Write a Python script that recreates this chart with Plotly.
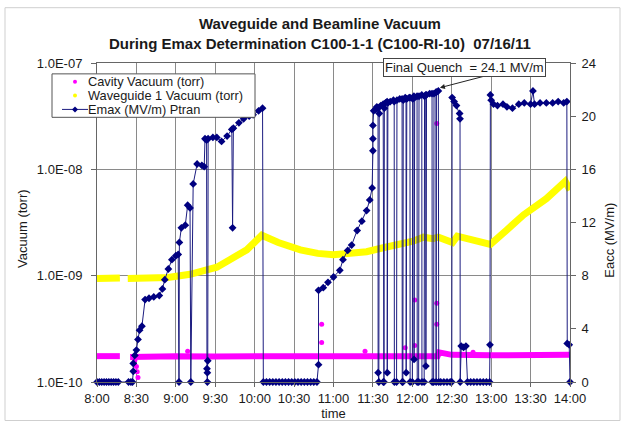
import plotly.graph_objects as go

# ---------------- data ----------------
tick_vals = [8.0, 8.5, 9.0, 9.5, 10.0, 10.5, 11.0, 11.5, 12.0, 12.5, 13.0, 13.5, 14.0]
tick_text = ["8:00", "8:30", "9:00", "9:30", "10:00", "10:30", "11:00", "11:30",
             "12:00", "12:30", "13:00", "13:30", "14:00"]
vac_tick_vals = [1e-10, 1e-9, 1e-8, 1e-7]
vac_tick_text = ["1.0E-10", "1.0E-09", "1.0E-08", "1.0E-07"]
eacc_tick_vals = [0, 4, 8, 12, 16, 20, 24]

series_names = ["Cavity Vacuum (torr)", "Waveguide 1 Vacuum (torr)", "Emax (MV/m) Ptran"]

# Cavity vacuum (torr) - baseline readings
cav_t = [8.00, 8.10, 8.20, 8.29, None, 8.42, 8.60, 9.00, 9.50, 10.00, 10.50, 11.00,
         11.50, 12.00, 12.32, 12.34, 12.50, 13.00, 13.50, 14.00]
cav_v = [1.75e-10, 1.74e-10, 1.75e-10, 1.75e-10, None, 1.72e-10, 1.74e-10, 1.75e-10,
         1.74e-10, 1.75e-10, 1.74e-10, 1.75e-10, 1.74e-10, 1.75e-10, 1.75e-10, 1.9e-10,
         1.8e-10, 1.78e-10, 1.8e-10, 1.8e-10]
# Cavity vacuum isolated readings (spikes / dips)
cav_spk_t = [8.48, 8.50, 8.51, 8.52, 9.15, 10.85, 10.85, 11.40, 11.91, 12.03, 12.03,
             12.31, 12.31, 12.31, 12.77]
cav_spk_v = [1.6e-10, 1.4e-10, 1.25e-10, 1.1e-10, 1.95e-10, 3.5e-10, 2.35e-10, 1.95e-10,
             2.1e-10, 2.2e-10, 5.9e-10, 2.7e-8, 5.5e-10, 3.5e-10, 1.9e-10]

# Waveguide 1 vacuum (torr)
wg_t = [8.00, 8.15, 8.29, None, 8.39, 8.60, 8.90, 9.18, 9.40, 9.52, 9.69, 9.90, 10.09,
        10.30, 10.58, 10.80, 11.00, 11.20, 11.42, 11.63, 11.84, 12.01, 12.14, 12.26,
        12.33, 12.50, 12.51, 12.57, 12.80, 12.99, 13.20, 13.41, 13.70, 13.94, 14.00]
wg_v = [9.4e-10, 9.4e-10, 9.5e-10, None, 9.4e-10, 9.5e-10, 9.6e-10, 1.03e-9, 1.14e-9,
        1.2e-9, 1.42e-9, 1.75e-9, 2.4e-9, 2.05e-9, 1.75e-9, 1.62e-9, 1.57e-9, 1.6e-9,
        1.68e-9, 1.83e-9, 1.97e-9, 2.11e-9, 2.3e-9, 2.23e-9, 2.3e-9, 2.0e-9, 2.05e-9,
        2.35e-9, 2.15e-9, 1.97e-9, 2.7e-9, 3.73e-9, 5.3e-9, 7.7e-9, 6.4e-9]

# Emax (MV/m) Ptran
emax_t = [8.00, 8.03, 8.06, 8.09, 8.12, 8.15, 8.18, 8.21, 8.24, 8.27, 8.40, 8.43, 8.45,
          8.46, 8.46, 8.48, 8.50, 8.52, 8.54, 8.57, 8.61, 8.66, 8.72, 8.79, 8.83, 8.86,
          8.905, 8.95, 9.00, 9.03, 9.04, 9.045, 9.07, 9.12, 9.15, 9.18, 9.19, 9.22, 9.27,
          9.33, 9.36, 9.37, 9.39, 9.395, 9.40, 9.40, 9.405, 9.41, 9.47, 9.52, 9.58, 9.65,
          9.71, 9.72, 9.73, 9.80, 9.86, 9.93, 9.98, 10.05, 10.10, 10.11, 10.15, 10.19,
          10.23, 10.27, 10.31, 10.35, 10.39, 10.43, 10.47, 10.51, 10.55, 10.59, 10.63,
          10.67, 10.71, 10.75, 10.79, 10.81, 10.81, 10.87, 10.93, 11.00, 11.08, 11.12,
          11.18, 11.23, 11.30, 11.36, 11.42, 11.46, 11.49, 11.50, 11.50, 11.50, 11.51,
          11.53, 11.55, 11.565, 11.566, 11.575, 11.58, 11.60, 11.63, 11.632, 11.64, 11.645,
          11.66, 11.68, 11.682, 11.69, 11.72, 11.76, 11.77, 11.772, 11.80, 11.805, 11.84,
          11.87, 11.872, 11.88, 11.885, 11.91, 11.92, 11.922, 11.93, 11.96, 11.97, 11.972,
          12.00, 12.005, 12.02, 12.022, 12.03, 12.06, 12.062, 12.08, 12.085, 12.12, 12.122,
          12.15, 12.155, 12.17, 12.172, 12.18, 12.22, 12.25, 12.252, 12.27, 12.275, 12.30,
          12.302, 12.305, 12.33, 12.335, 12.36, 12.40, 12.44, 12.48, 12.50, 12.505, 12.53,
          12.56, 12.60, 12.605, 12.607, 12.62, 12.65, 12.68, 12.70, 12.74, 12.78, 12.82,
          12.86, 12.90, 12.94, 12.98, 12.985, 12.99, 13.00, 13.03, 13.08, 13.15, 13.20,
          13.27, 13.35, 13.42, 13.50, 13.53, 13.55, 13.62, 13.70, 13.78, 13.85, 13.92,
          13.96, 13.965, 13.99, 14.00]
emax_v = [0, 0, 0, 0, 0, 0, 0, 0, 0, 0, 0, 0, 0,
          0.8, 1.4, 2.0, 2.4, 3.2, 3.9, 4.2, 6.2, 6.3, 6.4, 6.5, 7.0, 7.7,
          8.5, 9.2, 9.5, 9.6, 0, 10.5, 11.6, 11.8, 13.3, 13.1, 0, 14.9, 16.4,
          16.3, 16.2, 18.3, 18.2, 1.0, 0, 0.7, 1.6, 18.3, 18.4, 18.4, 18.1, 18.5,
          19.0, 11.6, 19.1, 19.5, 19.8, 20.0, 20.1, 20.4, 20.6, 0, 0, 0,
          0, 0, 0, 0, 0, 0, 0, 0, 0, 0, 0,
          0, 0, 0, 0, 1.3, 6.9, 7.1, 7.5, 7.9, 8.4, 9.2,
          9.9, 10.3, 11.4, 12.1, 12.9, 13.7, 14.6, 17.4, 18.3, 19.3, 20.4,
          20.5, 20.7, 20.6, 0.7, 0, 20.2, 20.8, 20.9, 0, 0, 20.6,
          21.0, 21.1, 0.7, 21.0, 21.1, 21.2, 21.1, 0, 0, 21.2, 21.3,
          21.3, 0, 0, 21.2, 21.4, 21.3, 0.7, 21.3, 21.4, 21.4, 0,
          0, 21.3, 21.5, 1.7, 21.4, 21.5, 0, 0, 21.5, 21.6, 0,
          0, 21.5, 21.6, 1.2, 21.6, 21.7, 21.7, 0, 0, 21.7, 21.8,
          0, 21.8, 21.9, 0, 0, 0, 0, 0, 0, 21.4, 21.1,
          20.8, 20.2, 19.8, 0, 2.7, 2.6, 2.7, 0, 0, 0, 0,
          0, 0, 0, 0, 2.8, 21.6, 21.2, 20.9, 20.8, 20.9, 20.7,
          20.6, 20.9, 21.0, 20.9, 21.9, 20.9, 21.0, 21.0, 21.0, 21.1, 21.0,
          21.1, 2.9, 2.8, 0]

quench_t, quench_e = 12.35, 22.14
quench_label = "Final Quench\u00a0 = 24.1 MV/m"

# ---------------- layout helpers ----------------
W, H = 625, 430
L, R, T, B = 97, 55, 63, 44
PW, PH = W - L - R, H - T - B


def px(x):
    return (x - L) / PW


def py(y):
    return (H - B - y) / PH


FONT = "Liberation Sans, Arial, sans-serif"
TXT = "#1a1a1a"
GRID = "#8a8a8a"
AXC = "#666666"
MAG, YEL, NAVY = "#ff00ff", "#ffff00", "#000080"

fig = go.Figure()

fig.add_trace(go.Scatter(x=cav_t, y=cav_v, mode="lines", line=dict(color=MAG, width=6),
                         hoverinfo="skip", connectgaps=False))
fig.add_trace(go.Scatter(x=wg_t, y=wg_v, mode="lines", line=dict(color=YEL, width=7),
                         hoverinfo="skip", connectgaps=False))
fig.add_trace(go.Scatter(x=cav_spk_t, y=cav_spk_v, mode="markers",
                         marker=dict(color=MAG, size=5, symbol="circle"),
                         name=series_names[0], cliponaxis=False))
fig.add_trace(go.Scatter(x=emax_t, y=emax_v, mode="lines+markers", yaxis="y2",
                         line=dict(color="#1c1c80", width=1),
                         marker=dict(color=NAVY, size=6, symbol="diamond"),
                         name=series_names[2], cliponaxis=False))

fig.update_layout(
    width=W, height=H,
    margin=dict(l=L, r=R, t=T, b=B),
    paper_bgcolor="white", plot_bgcolor="white",
    font=dict(family=FONT, size=13, color=TXT),
    showlegend=False,
    xaxis=dict(range=[8, 14], tickvals=tick_vals, ticktext=tick_text,
               showgrid=True, gridcolor=GRID, gridwidth=1,
               showline=True, linecolor=AXC, linewidth=1, mirror=True,
               ticks="outside", ticklen=4, tickcolor=AXC,
               title=dict(text="time", font=dict(size=13), standoff=3),
               zeroline=False, tickfont=dict(size=13)),
    yaxis=dict(type="log", range=[-10, -7], tickvals=vac_tick_vals, ticktext=vac_tick_text,
               showgrid=True, gridcolor=GRID, gridwidth=1,
               showline=True, linecolor=AXC, linewidth=1,
               ticks="outside", ticklen=5, tickcolor=AXC, ticklabelstandoff=6,
               tickfont=dict(size=13), zeroline=False),
    yaxis2=dict(overlaying="y", side="right", range=[0, 24], tickvals=eacc_tick_vals,
                showgrid=False, showline=True, linecolor=AXC, linewidth=1,
                ticks="outside", ticklen=5, tickcolor=AXC, ticklabelstandoff=3,
                tickfont=dict(size=13), zeroline=False),
)

# axis titles
fig.add_annotation(xref="paper", yref="paper", x=px(23), y=py(231), textangle=-90,
                   showarrow=False, text="Vacuum (torr)", font=dict(size=13, color=TXT),
                   xanchor="center", yanchor="middle")
fig.add_annotation(xref="paper", yref="paper", x=px(610), y=py(243), textangle=-90,
                   showarrow=False, text="Eacc (MV/m)", font=dict(size=13, color=TXT),
                   xanchor="center", yanchor="middle")

# outer chart border
fig.add_shape(type="rect", xref="paper", yref="paper",
              x0=px(5), x1=px(620), y0=py(425), y1=py(7),
              line=dict(color="#cfcfcf", width=1), layer="below")

# title
fig.add_annotation(xref="paper", yref="paper", x=px(320), y=py(33), xanchor="center",
                   yanchor="middle", showarrow=False, align="center",
                   text="<b>Waveguide and Beamline Vacuum</b><br><b>During Emax Determination C100-1-1 (C100-RI-10)\u00a0 07/16/11</b>",
                   font=dict(size=15, color=TXT, family=FONT))

# legend (drawn box)
fig.add_shape(type="rect", xref="paper", yref="paper", x0=px(52), x1=px(255),
              y0=py(118), y1=py(74), line=dict(color="#555555", width=1),
              fillcolor="white", layer="above")
leg_y = [82, 96, 110]
fig.add_shape(type="circle", xref="paper", yref="paper", x0=px(73), x1=px(77),
              y0=py(leg_y[0] + 2), y1=py(leg_y[0] - 2), line=dict(width=0), fillcolor=MAG)
fig.add_shape(type="circle", xref="paper", yref="paper", x0=px(73), x1=px(77),
              y0=py(leg_y[1] + 2), y1=py(leg_y[1] - 2), line=dict(width=0), fillcolor=YEL)
fig.add_shape(type="line", xref="paper", yref="paper", x0=px(62), x1=px(88),
              y0=py(leg_y[2]), y1=py(leg_y[2]), line=dict(color="#1c1c80", width=1))
fig.add_shape(type="path", xref="paper", yref="paper",
              path="M {a},{b} L {c},{d} L {a},{e} L {f},{d} Z".format(
                  a=px(75), b=py(leg_y[2] - 3), c=px(78), d=py(leg_y[2]),
                  e=py(leg_y[2] + 3), f=px(72)),
              line=dict(width=0), fillcolor=NAVY)
for name, yy in zip(series_names, leg_y):
    fig.add_annotation(xref="paper", yref="paper", x=px(86), y=py(yy), xanchor="left",
                       yanchor="middle", showarrow=False, text=name,
                       font=dict(size=12.8, color=TXT))

# final quench callout
fig.add_annotation(xref="x", yref="y2", x=quench_t, y=quench_e, ax=50, ay=-13,
                   text="", showarrow=True, arrowhead=2, arrowsize=1, arrowwidth=1,
                   arrowcolor="#222222")
fig.add_annotation(xref="paper", yref="paper", x=px(464), y=py(68),
                   xanchor="center", yanchor="middle", showarrow=False,
                   text=quench_label, font=dict(size=13, color=TXT),
                   bgcolor="white", bordercolor="#444444", borderwidth=1, borderpad=1)

fig.write_html("out.html")
